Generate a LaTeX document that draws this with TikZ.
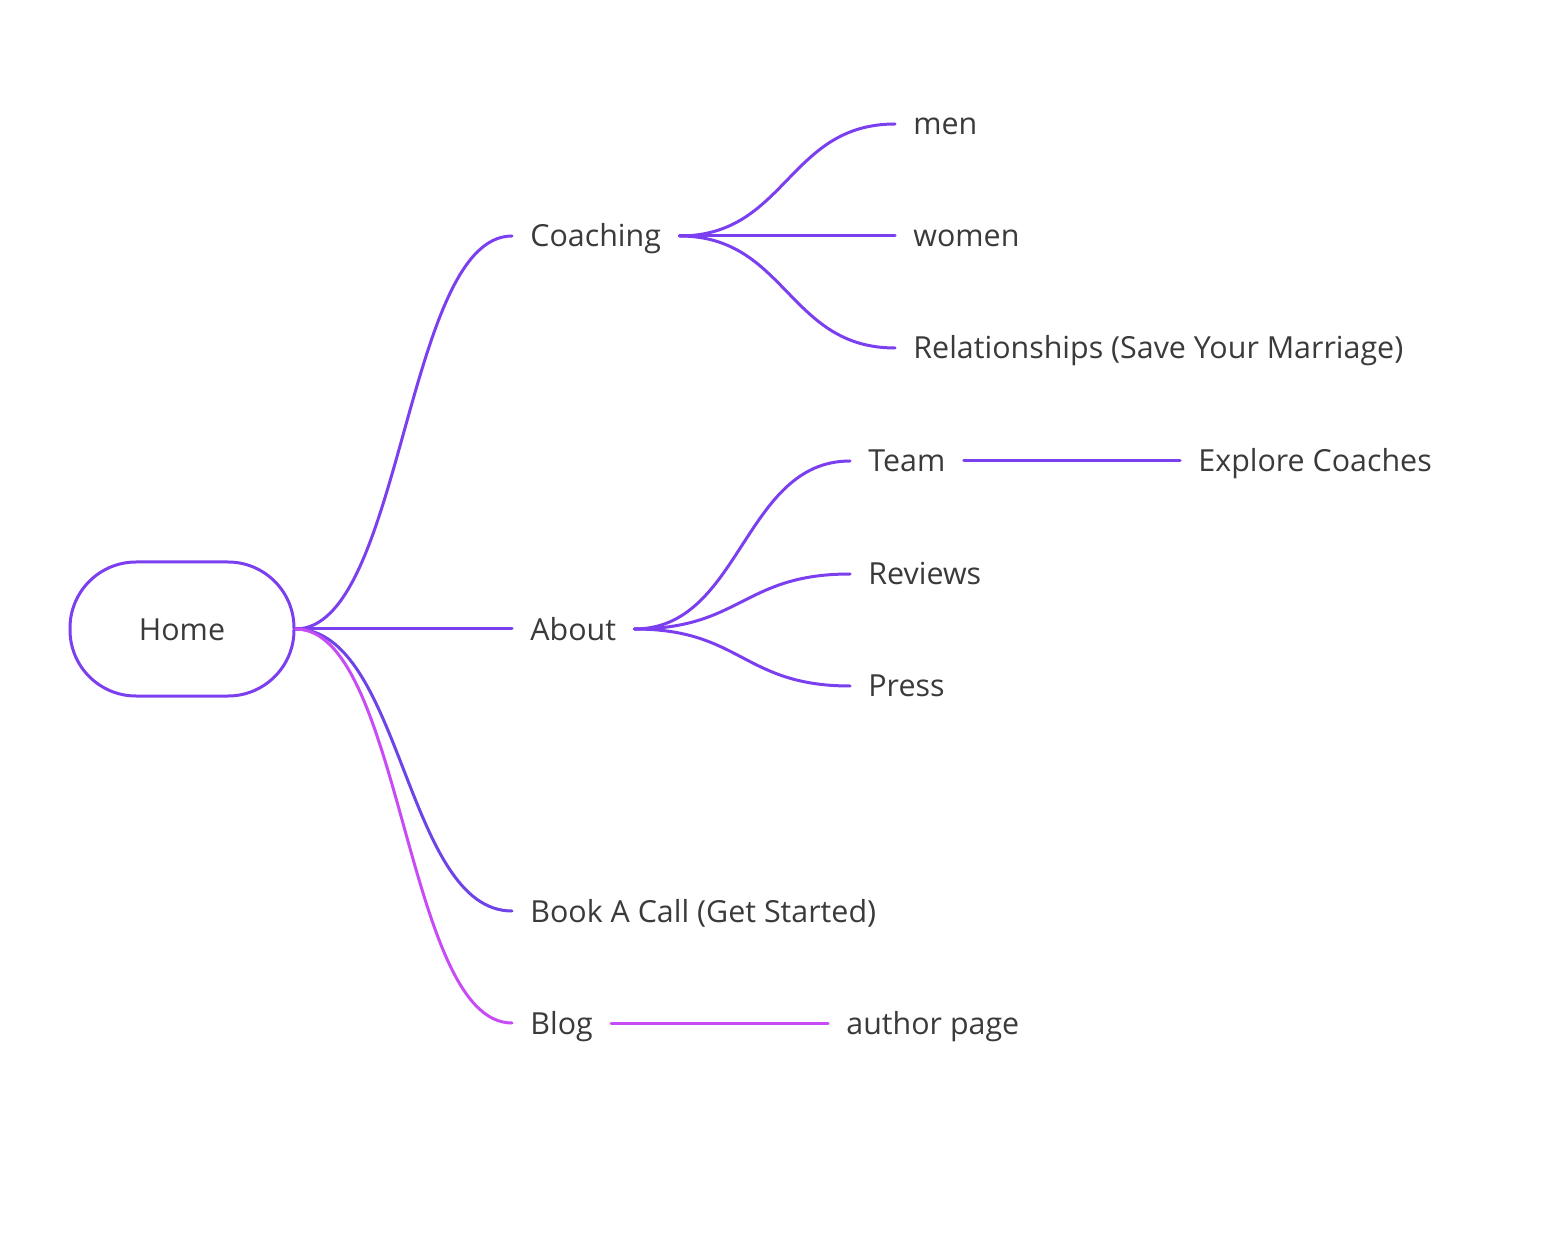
\documentclass[tikz,border=0pt]{standalone}
\usepackage{fontspec}
\setmainfont{Open Sans}
\definecolor{vio}{HTML}{7B3FF0}
\definecolor{vioblue}{HTML}{6E44E8}
\definecolor{mag}{HTML}{C84CF5}
\definecolor{txt}{HTML}{3A3A3A}
\begin{document}
\begin{tikzpicture}[x=0.5pt,y=-0.5pt,
  lbl/.style={anchor=west, inner xsep=9pt, inner ysep=0pt, text height=1.1em, text depth=0pt, text=txt, font=\fontsize{15.2}{17}\selectfont},
  edge/.style={line width=1.5pt, draw=vio, line cap=round},
  scurve/.style={to path={(\tikztostart) .. controls +(107,0) and +(-107,0) .. (\tikztotarget)}}]
\useasboundingbox (0,0) rectangle (1562,1234);
\node[draw=vio, line width=1.5pt, rounded corners=33pt, minimum width=112pt, minimum height=67pt, inner sep=0pt, text height=1.1em, text depth=0pt, text=txt, font=\fontsize{15.2}{17}\selectfont] (home) at (182,629) {Home};
\node[lbl] (coach) at (512,236) {Coaching};
\node[lbl] (about) at (512,629) {About};
\node[lbl] (book) at (512,911) {Book A Call (Get Started)};
\node[lbl] (blog) at (512,1023) {Blog};
\node[lbl] (men) at (895,124) {men};
\node[lbl] (women) at (895,236) {women};
\node[lbl] (rel) at (895,348) {Relationships (Save Your Marriage)};
\node[lbl] (team) at (850,461) {Team};
\node[lbl] (rev) at (850,574) {Reviews};
\node[lbl] (press) at (850,686) {Press};
\node[lbl] (explore) at (1180,461) {Explore Coaches};
\node[lbl] (author) at (828,1023) {author page};
% level 1
\draw[edge] (home.east) to[scurve] (coach.west);
\draw[edge] (home.east) -- (about.west);
\draw[edge, draw=vioblue] (home.east) to[scurve] (book.west);
\draw[edge, draw=mag] (home.east) to[scurve] (blog.west);
% coaching
\draw[edge] (coach.east) to[scurve] (men.west);
\draw[edge] (coach.east) -- (women.west);
\draw[edge] (coach.east) to[scurve] (rel.west);
% about
\draw[edge] (about.east) to[scurve] (team.west);
\draw[edge] (about.east) to[scurve] (rev.west);
\draw[edge] (about.east) to[scurve] (press.west);
% leaves
\draw[edge] (team.east) -- (explore.west);
\draw[edge, draw=mag] (blog.east) -- (author.west);
\end{tikzpicture}
\end{document}
